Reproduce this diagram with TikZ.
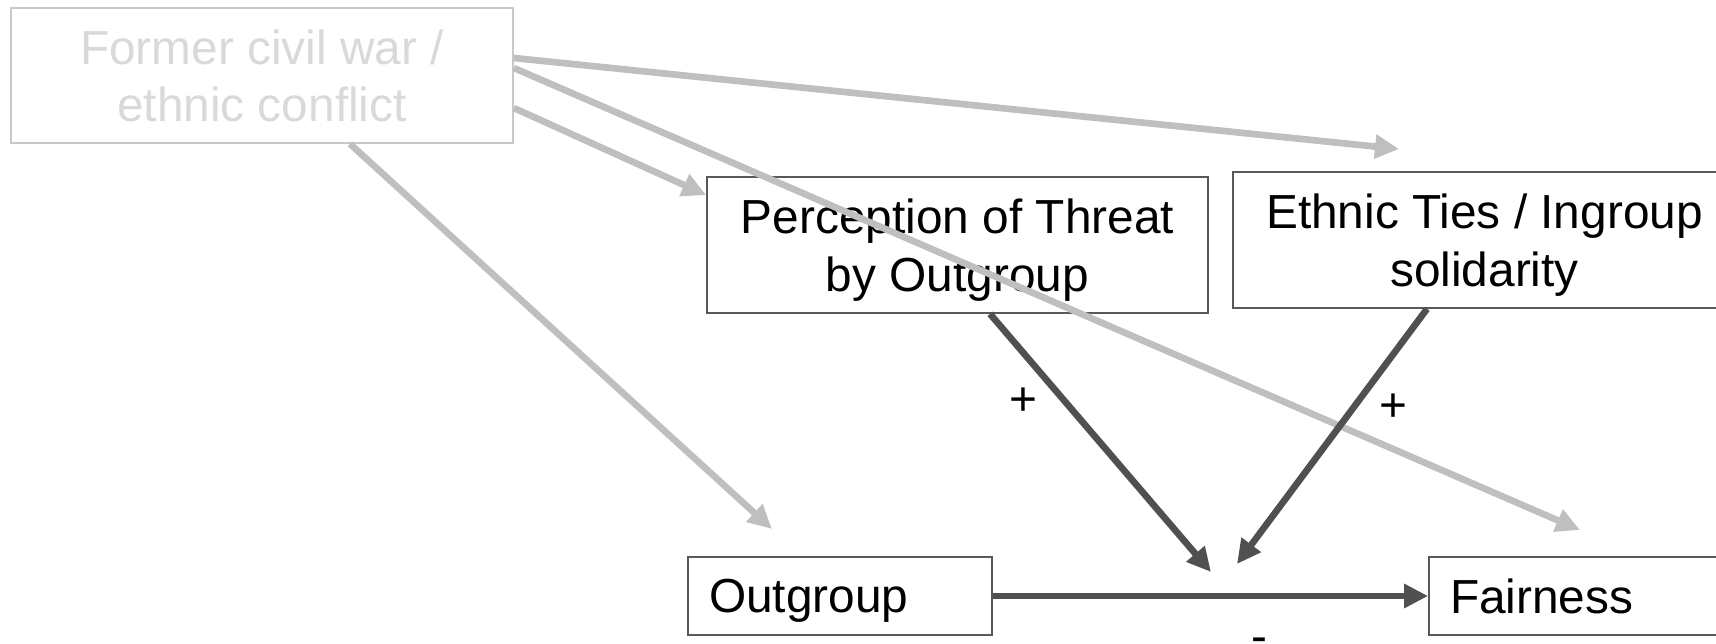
\documentclass[tikz,border=0pt]{standalone}
\usepackage{fontspec}
\setmainfont{Liberation Sans}
\usetikzlibrary{arrows.meta}

\definecolor{boxline}{HTML}{595959}
\definecolor{faded}{HTML}{D9D9D9}
\definecolor{fadedline}{HTML}{C8C8C8}
\definecolor{pathgray}{HTML}{BFBFBF}
\definecolor{pathdark}{HTML}{505050}

\tikzset{
    varbox/.style={draw=boxline, line width=0.5pt, align=center, inner sep=0pt,
        text depth=0pt, minimum height=1.36cm},
    leftbox/.style={draw=boxline, line width=0.5pt, align=left, inner ysep=0pt,
        inner xsep=0.21cm, text width=2.62cm, text depth=0pt, minimum height=0.78cm},
    oldpath/.style={draw=pathgray, line width=1.9pt,
        -{Triangle[length=0.24cm,width=0.23cm]}},
    mainpath/.style={draw=pathdark, line width=1.9pt,
        -{Triangle[length=0.24cm,width=0.23cm]}},
    sign/.style={inner sep=0pt, font=\fontsize{13.6}{16.4}\selectfont}
}

\begin{document}
\begin{tikzpicture}[font=\fontsize{13.6}{16.4}\selectfont]

    \useasboundingbox (0,0) rectangle (17.16,6.43);

    % Boxes
    \node[varbox, draw=fadedline, text=faded, minimum width=5.02cm, minimum height=1.35cm]
        (conflict) at (2.62,5.675) {Former civil war /\\ethnic conflict};
    \node[varbox, minimum width=5.01cm] (threat) at (9.575,3.98)
        {Perception of Threat\\by Outgroup};
    \node[varbox, minimum width=5.03cm] (ties) at (14.845,4.03)
        {Ethnic Ties / Ingroup\\solidarity};
    \node[leftbox] (outgroup) at (8.40,0.47) {Outgroup};
    \node[leftbox] (fairness) at (15.81,0.47) {Fairness};

    % Free ends
    \coordinate (tiesend) at (13.99,4.94);
    \coordinate (fairend) at (15.80,1.13);
    \coordinate (outend) at (7.72,1.14);
    \coordinate (modA) at (12.11,0.71);
    \coordinate (modB) at (12.37,0.79);

    % Paths from the former conflict
    \draw[oldpath] ([yshift=0.175cm]conflict.east) -- (tiesend);
    \draw[oldpath] ([yshift=0.075cm]conflict.east) -- (fairend);
    \draw[oldpath] ([yshift=-0.325cm]conflict.east) -- ([yshift=0.5cm]threat.west);
    \draw[oldpath] ([xshift=0.88cm]conflict.south) -- (outend);

    % Moderators and main effect
    \draw[mainpath] ([xshift=0.325cm]threat.south) -- (modA)
        node[sign, pos=0.34, xshift=-0.42cm] {+};
    \draw[mainpath] ([xshift=-0.575cm]ties.south) -- (modB)
        node[sign, pos=0.388, xshift=0.40cm] {+};
    \draw[mainpath] (outgroup) -- (fairness)
        node[sign, pos=0.613, yshift=-0.49cm] {-};

\end{tikzpicture}
\end{document}
